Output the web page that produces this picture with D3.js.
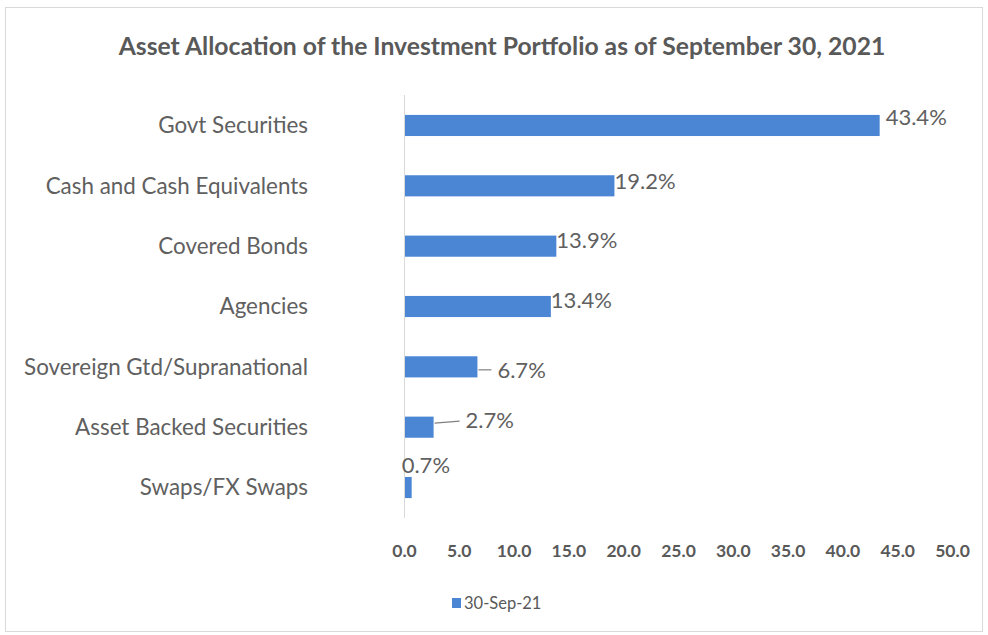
<!DOCTYPE html>
<html><head><meta charset="utf-8">
<script src="https://cdn.jsdelivr.net/npm/d3@7"></script>
<style>html,body{margin:0;padding:0;background:#fff;}svg{display:block;}</style>
</head><body>
<svg id="c" width="988" height="635"></svg>
<script>
const categories = ["Govt Securities","Cash and Cash Equivalents","Covered Bonds","Agencies","Sovereign Gtd/Supranational","Asset Backed Securities","Swaps/FX Swaps"];
const values = [43.4,19.2,13.9,13.4,6.7,2.7,0.7];
const tickValues = [0,5,10,15,20,25,30,35,40,45,50];
const seriesName = "30-Sep-21";
const title = "Asset Allocation of the Investment Portfolio as of September 30, 2021";

const font = "Lato, 'Open Sans', sans-serif";
const grey = "#595959";
const blue = "#4a86d4";
const svg = d3.select("#c");

svg.append("rect").attr("x",5.5).attr("y",7.5).attr("width",977).attr("height",624)
  .attr("fill","#fff").attr("stroke","#d9d9d9");

svg.append("text").attr("x",502).attr("y",55).attr("text-anchor","middle")
  .attr("font-family",font).attr("font-weight","bold").attr("font-size",24.7)
  .attr("fill",grey).text(title);

const x = d3.scaleLinear().domain([0,50]).range([404,952]);
const y = d3.scaleBand().domain(categories).range([95,518]).paddingInner(0.65).paddingOuter(0.33);

// bars
svg.selectAll("rect.bar").data(values).join("rect").attr("class","bar")
  .attr("x",x(0)).attr("y",(d,i)=>y(categories[i]))
  .attr("width",d=>x(d)-x(0)).attr("height",y.bandwidth()).attr("fill",blue);

// vertical axis line
svg.append("line").attr("x1",x(0)+0.5).attr("x2",x(0)+0.5).attr("y1",95).attr("y2",518)
  .attr("stroke","#d9d9d9");

// category labels
svg.selectAll("text.cat").data(categories).join("text").attr("class","cat")
  .attr("x",308).attr("y",d=>y(d)+y.bandwidth()/2).attr("dy","0.35em")
  .attr("text-anchor","end").attr("font-family",font).attr("font-size",22.4)
  .attr("fill","#606060").text(d=>d);

// x axis tick labels
const xAxis = d3.axisBottom(x).tickValues(tickValues).tickFormat(d3.format(".1f")).tickSize(0).tickPadding(0);
const gx = svg.append("g").attr("transform","translate(0,557)").call(xAxis);
gx.select(".domain").remove();
gx.selectAll("text").attr("font-family",font).attr("font-size",17.5).attr("font-weight","bold")
  .attr("fill",grey).attr("dy","0");

// data labels (placement: dx from bar end, dy from bar center)
const labelPos = [
  {dx:6, dy:-8, leader:false},
  {dx:0, dy:-5, leader:false},
  {dx:0, dy:-6, leader:false},
  {dx:0, dy:-6, leader:false},
  {dx:20, dy:3, leader:true},
  {dx:32, dy:-7, leader:true},
  {dx:-10, dy:-22, leader:false}
];
values.forEach((v,i)=>{
  const p = labelPos[i];
  const cy = y(categories[i]) + y.bandwidth()/2;
  const lx = x(v) + p.dx;
  if (p.leader) {
    const ly = cy + p.dy;
    svg.append("line").attr("x1",x(v)+1).attr("x2",lx-6).attr("y1",i===5?ly+3:ly).attr("y2",i===5?ly+1:ly)
      .attr("stroke","#7f7f7f").attr("stroke-width",1.2);
  }
  svg.append("text").attr("x",lx).attr("y",cy+p.dy).attr("dy","0.35em")
    .attr("font-family",font).attr("font-size",22).attr("fill","#606060")
    .text(d3.format(".1f")(v)+"%");
});

// legend
svg.append("rect").attr("x",452).attr("y",598).attr("width",9).attr("height",10).attr("fill",blue);
svg.append("text").attr("x",464).attr("y",603).attr("dy","0.35em").attr("font-family",font)
  .attr("font-size",16.5).attr("fill",grey).text(seriesName);
</script>
</body></html>
